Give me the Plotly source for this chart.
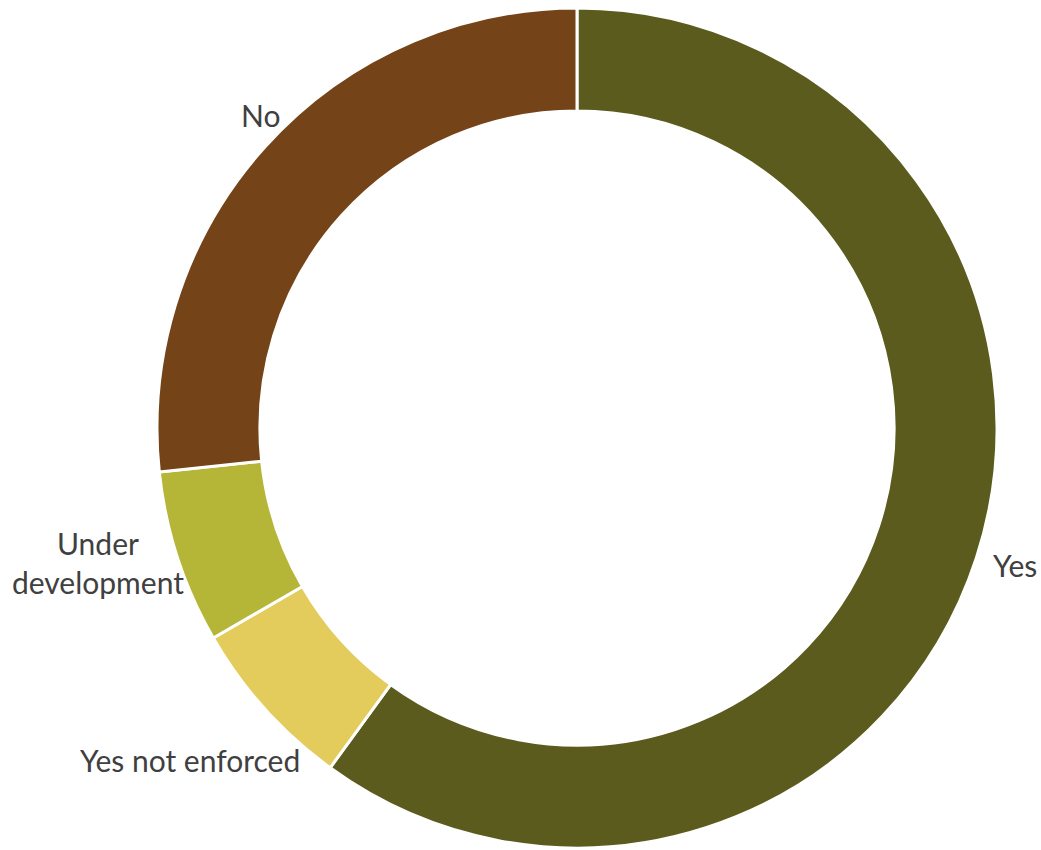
import plotly.graph_objects as go

labels = ["Yes", "Yes not enforced", "Under development", "No"]
values = [27, 3, 3, 12]
colors = ["#5b5b1e", "#e3cb5c", "#b5b537", "#744418"]

label_text = ["Yes", "Yes not enforced", "Under<br>development", "No"]
# label centres in window pixels
label_px = [(1015, 565), (190, 760), (98, 562), (260, 115)]

W, H = 1041, 850
cx, cy, R = 577, 428, 420

fig = go.Figure(go.Pie(
    labels=labels,
    values=values,
    marker=dict(colors=colors, line=dict(color="white", width=3)),
    hole=0.755,
    sort=False,
    direction="clockwise",
    rotation=0,
    textinfo="none",
    hoverinfo="label+value+percent",
    showlegend=False,
    domain=dict(x=[(cx - R) / W, (cx + R) / W],
                y=[max(0, (H - cy - R) / H), min(1, (H - cy + R) / H)]),
))

for t, (px, py) in zip(label_text, label_px):
    fig.add_annotation(x=px / W, y=1 - py / H, xref="paper", yref="paper",
                       text=t, showarrow=False, xanchor="center", yanchor="middle",
                       font=dict(family="Lato, Open Sans, sans-serif", size=30, color="#404040"))

fig.update_layout(width=W, height=H, margin=dict(l=0, r=0, t=0, b=0),
                  paper_bgcolor="white", plot_bgcolor="white")

fig.write_html("out.html", config={"displayModeBar": False},
               post_script="document.body.style.margin='0';document.body.style.overflow='hidden';")
